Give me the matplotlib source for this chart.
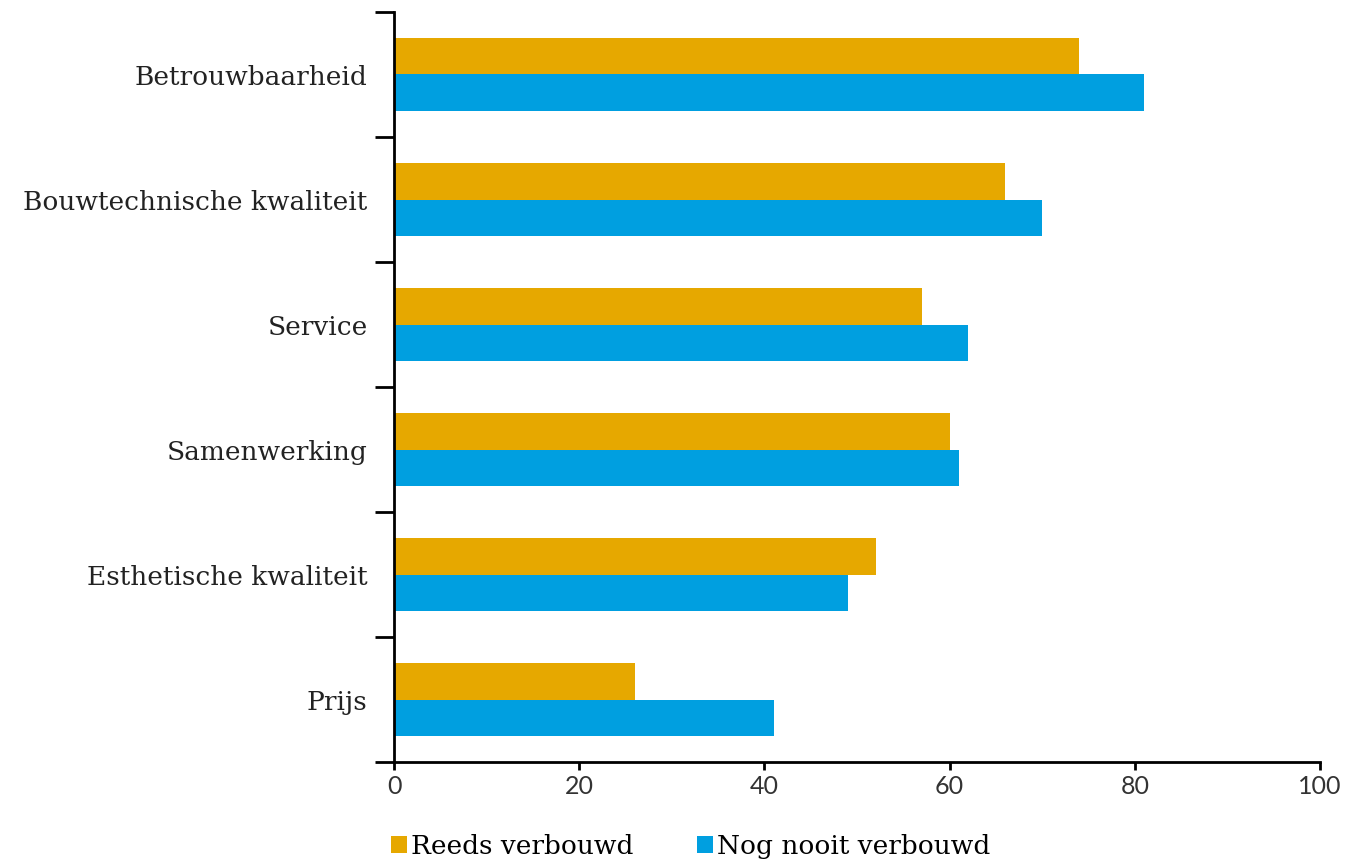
import numpy as np
from matplotlib import pyplot
from matplotlib import patches

categories = ['Betrouwbaarheid', 'Bouwtechnische kwaliteit', 'Service',
              'Samenwerking', 'Esthetische kwaliteit', 'Prijs']
reeds_verbouwd = [74, 66, 57, 60, 52, 26]
nooit_verbouwd = [81, 70, 62, 61, 49, 41]
x_ticks = [0, 20, 40, 60, 80, 100]

orange = '#E6A800'
blue = '#009FE0'

fig = pyplot.figure(figsize=(13.48, 8.63), dpi=100)
ax = fig.add_axes([394/1348, 101/863, 926/1348, 750/863])

n = len(categories)
pos = np.arange(n)[::-1]  # first category on top
h = 0.29
ax.barh(pos + h/2, reeds_verbouwd, height=h, color=orange, zorder=2)
ax.barh(pos - h/2, nooit_verbouwd, height=h, color=blue, zorder=2)

ax.set_xlim(0, 100)
ax.set_ylim(-0.5, n - 0.5)

# major ticks between the categories, labels on minor ticks
ax.set_yticks(np.arange(n + 1) - 0.5)
ax.set_yticklabels([])
ax.set_yticks(pos, minor=True)
ax.set_yticklabels(categories, minor=True, fontsize=19, family='DejaVu Serif', color='#222222')
ax.tick_params(axis='y', which='minor', length=0, pad=19)
ax.tick_params(axis='y', which='major', length=14, width=2, direction='out')

ax.set_xticks(x_ticks)
ax.set_xticklabels([str(t) for t in x_ticks], fontsize=18, family='Lato', color='#333333')
ax.tick_params(axis='x', length=6, width=2, direction='out', pad=3)

ax.spines['top'].set_visible(False)
ax.spines['right'].set_visible(False)
ax.spines['left'].set_linewidth(2)
ax.spines['bottom'].set_linewidth(2)

legend_elements = [patches.Patch(facecolor=orange, label='Reeds verbouwd'),
                   patches.Patch(facecolor=blue, label='Nog nooit verbouwd')]
ax.legend(handles=legend_elements, loc='center left', bbox_to_anchor=(-0.003, -0.112),
          ncol=2, frameon=False, borderaxespad=0, borderpad=0,
          handlelength=0.6, handleheight=0.6, handletextpad=0.15,
          columnspacing=2.4, prop={'family': 'DejaVu Serif', 'size': 19})

pyplot.savefig('out.png', dpi=100)
